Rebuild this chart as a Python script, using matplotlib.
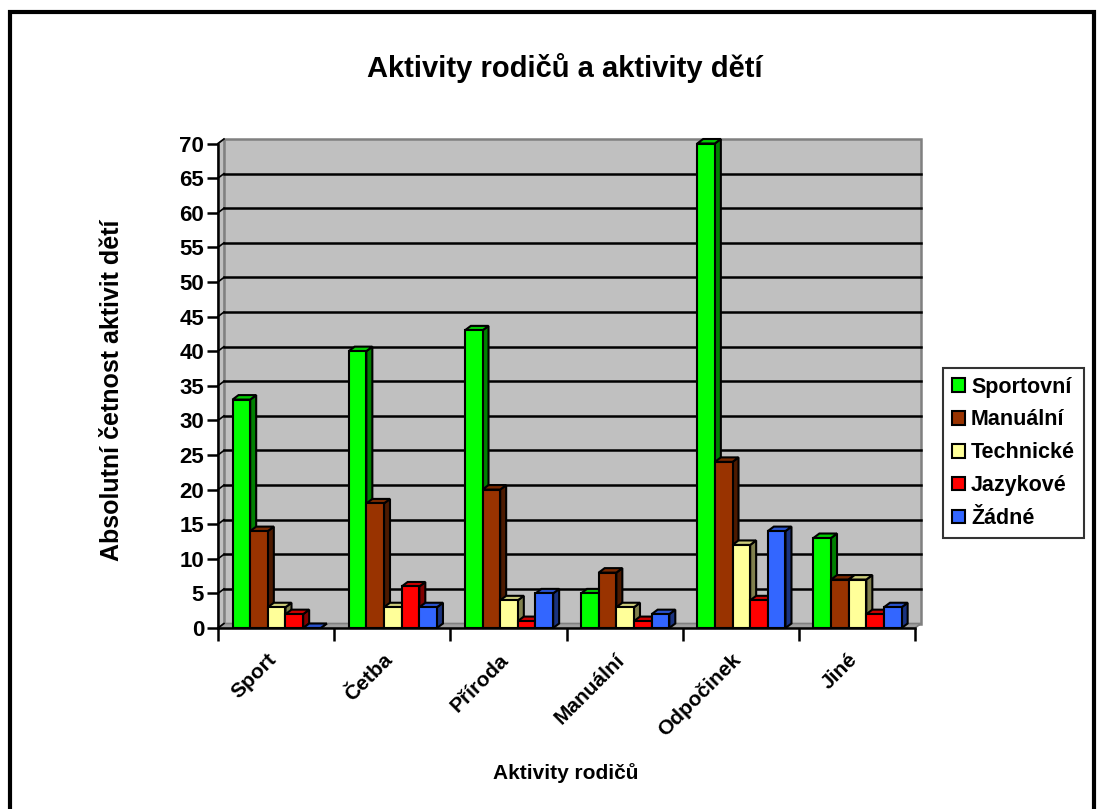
import numpy as np
import matplotlib.pyplot as plt
from matplotlib.patches import Polygon, Patch, Rectangle
from matplotlib.colors import to_rgb

plt.rcParams['font.family'] = ['Liberation Sans', 'DejaVu Sans']
plt.rcParams['font.weight'] = 'bold'

# data
categories = ['Sport', 'Četba', 'Příroda', 'Manuální', 'Odpočinek', 'Jiné']
series = ['Sportovní', 'Manuální', 'Technické', 'Jazykové', 'Žádné']
sportovni = [33, 40, 43, 5, 70, 13]
manualni = [14, 18, 20, 8, 24, 7]
technicke = [3, 3, 4, 3, 12, 7]
jazykove = [2, 6, 1, 1, 4, 2]
zadne = [0, 3, 5, 2, 14, 3]
values = [sportovni, manualni, technicke, jazykove, zadne]
colors = ['#00FF00', '#993300', '#FFFF99', '#FF0000', '#3366FF']

W, H = 1101, 809
fig = plt.figure(figsize=(W / 100, H / 100), dpi=100)
fig.patch.set_facecolor('white')

# outer chart border
fig.add_artist(Rectangle((10 / W, -0.02), (1094 - 10) / W, 1.02 - 12 / H,
                         transform=fig.transFigure, fill=False,
                         edgecolor='black', linewidth=3))

x0, x1 = 218, 915
y0, y1 = 628, 143.5
ax = fig.add_axes([x0 / W, (H - y0) / H, (x1 - x0) / W, (y0 - y1) / H])
ax.set_xlim(0, 6)
ax.set_ylim(0, 70)
ax.patch.set_alpha(0)
for s in ['top', 'right']:
    ax.spines[s].set_visible(False)
ax.spines['left'].set_linewidth(1.8)
ax.spines['bottom'].set_linewidth(1.8)

dx = 6 / 116.2   # depth offsets in data units
dy = 4.5 / 6.93

# back wall, side wall and floor
ax.add_patch(Polygon([(dx, dy), (6 + dx, dy), (6 + dx, 70 + dy), (dx, 70 + dy)],
                     closed=True, facecolor='#C0C0C0', edgecolor='#808080',
                     linewidth=1.8, clip_on=False, zorder=0))
ax.add_patch(Polygon([(0, 0), (dx, dy), (dx, 70 + dy), (0, 70)],
                     closed=True, facecolor='#C0C0C0', edgecolor='#808080',
                     linewidth=1.2, clip_on=False, zorder=0.5))
ax.add_patch(Polygon([(0, 0), (6, 0), (6 + dx, dy), (dx, dy)],
                     closed=True, facecolor='#A0A0A0', edgecolor='#808080',
                     linewidth=1.2, clip_on=False, zorder=0.5))

ticks = np.arange(0, 71, 5)
for v in ticks[1:-1]:
    ax.plot([dx, 6 + dx], [v + dy, v + dy], color='black', lw=1.8,
            clip_on=False, zorder=1)
for v in ticks:
    ax.plot([0, dx], [v, v + dy], color='black', lw=1.2, clip_on=False, zorder=1)

# bars with a simple 3D look
bw = 0.152
off = 0.125
for j, (vals, c) in enumerate(zip(values, colors)):
    rgb = np.array(to_rgb(c))
    top_c = rgb * 0.8
    side_c = rgb * 0.5
    for i, v in enumerate(vals):
        left = i + off + j * bw
        right = left + bw
        z = 2 + j * 0.1
        ax.add_patch(Polygon([(right, 0), (right + dx, dy), (right + dx, v + dy), (right, v)],
                             closed=True, facecolor=side_c, edgecolor='black',
                             linewidth=1.5, clip_on=False, zorder=z))
        ax.add_patch(Polygon([(left, v), (right, v), (right + dx, v + dy), (left + dx, v + dy)],
                             closed=True, facecolor=top_c, edgecolor='black',
                             linewidth=1.5, clip_on=False, zorder=z))
        if v > 0:
            ax.add_patch(Rectangle((left, 0), bw, v, facecolor=c, edgecolor='black',
                                   linewidth=1.5, clip_on=False, zorder=z + 0.01))

ax.set_yticks(ticks)
ax.set_yticklabels([str(t) for t in ticks], fontsize=16, fontweight='bold')
ax.tick_params(axis='y', direction='out', length=8, width=1.8, pad=2)

ax.set_xticks(np.arange(0, 7))
ax.set_xticklabels([])
ax.tick_params(axis='x', direction='out', length=9, width=1.8)
ax.set_xticks(np.arange(6) + 0.5 - 0.08, minor=True)
ax.set_xticklabels(categories, minor=True, rotation=45, ha='right', va='top',
                   rotation_mode='anchor', fontsize=15, fontweight='bold')
ax.tick_params(axis='x', which='minor', length=0, pad=16)

fig.text(112 / W, 1 - 390 / H, 'Absolutní četnost aktivit dětí', rotation=90,
         ha='center', va='center', fontsize=18, fontweight='bold')
fig.text(566 / W, 1 - 773 / H, 'Aktivity rodičů', ha='center', va='center',
         fontsize=15, fontweight='bold')
fig.text(565 / W, 1 - 68 / H, 'Aktivity rodičů a aktivity dětí', ha='center',
         va='center', fontsize=21, fontweight='bold')

handles = [Patch(facecolor=c, edgecolor='black', linewidth=1.5) for c in colors]
leg = fig.legend(handles, series, loc='upper left',
                 bbox_to_anchor=(943 / W, 1 - 368 / H), frameon=True,
                 fancybox=False, prop={'size': 15.5, 'weight': 'bold'},
                 handlelength=0.6, handleheight=0.6, handletextpad=0.3,
                 labelspacing=0.55, borderpad=0.4, borderaxespad=0)
leg.get_frame().set_edgecolor('black')
leg.get_frame().set_linewidth(1.5)

fig.savefig('out.png', dpi=100)
